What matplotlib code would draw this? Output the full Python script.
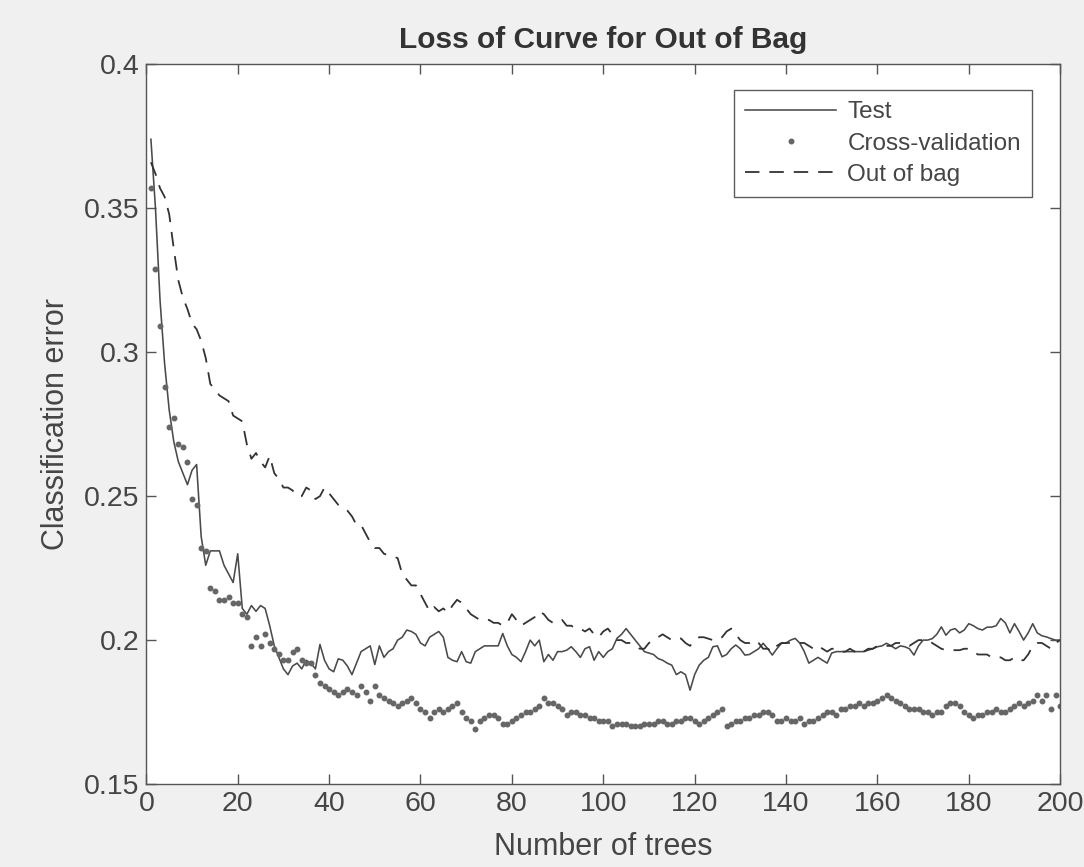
import matplotlib
matplotlib.use("Agg")
import matplotlib.pyplot as plt
import numpy as np

plt.rcParams['font.family'] = ['Liberation Sans', 'DejaVu Sans']

trees = list(range(1, 201))

test_err = [
    0.374, 0.350, 0.318, 0.296, 0.280, 0.269, 0.262, 0.258, 0.254, 0.259,
    0.261, 0.236, 0.226, 0.231, 0.231, 0.231, 0.226, 0.223, 0.220, 0.230,
    0.211, 0.209, 0.212, 0.210, 0.212, 0.211, 0.205, 0.198, 0.194, 0.190,
    0.188, 0.191, 0.192, 0.190, 0.193, 0.192, 0.190, 0.1985, 0.193, 0.190,
    0.189, 0.1935, 0.193, 0.191, 0.188, 0.192, 0.196, 0.197, 0.198, 0.1915,
    0.198, 0.194, 0.196, 0.197, 0.200, 0.201, 0.2035, 0.203, 0.202, 0.199,
    0.198, 0.201, 0.202, 0.203, 0.201, 0.194, 0.193, 0.1925, 0.196, 0.1925,
    0.192, 0.196, 0.197, 0.198, 0.198, 0.198, 0.198, 0.2023, 0.198, 0.195,
    0.194, 0.1925, 0.196, 0.200, 0.198, 0.200, 0.1925, 0.195, 0.193, 0.196,
    0.196, 0.1965, 0.1977, 0.196, 0.194, 0.197, 0.1977, 0.193, 0.196, 0.194,
    0.196, 0.197, 0.2006, 0.202, 0.204, 0.202, 0.200, 0.198, 0.196, 0.1955,
    0.195, 0.1936, 0.193, 0.192, 0.1913, 0.188, 0.189, 0.188, 0.1826, 0.188,
    0.1913, 0.193, 0.194, 0.1977, 0.198, 0.1942, 0.195, 0.197, 0.1983, 0.197,
    0.1948, 0.195, 0.196, 0.197, 0.1989, 0.197, 0.1948, 0.197, 0.1989, 0.199,
    0.200, 0.2006, 0.199, 0.196, 0.192, 0.193, 0.194, 0.193, 0.192, 0.1955,
    0.196, 0.196, 0.196, 0.196, 0.196, 0.196, 0.196, 0.1965, 0.197, 0.1977,
    0.198, 0.1989, 0.198, 0.197, 0.198, 0.1977, 0.197, 0.1948, 0.198, 0.200,
    0.200, 0.2005, 0.202, 0.2046, 0.2017, 0.2035, 0.204, 0.2025, 0.2035, 0.2057,
    0.205, 0.204, 0.2035, 0.2045, 0.2045, 0.205, 0.2075, 0.206, 0.2025, 0.2057,
    0.203, 0.200, 0.2025, 0.2057, 0.2025, 0.2015, 0.2011, 0.2005, 0.200, 0.200,
]

cv_err = [
    0.357, 0.329, 0.309, 0.288, 0.274, 0.277, 0.268, 0.267, 0.262, 0.249,
    0.247, 0.232, 0.231, 0.218, 0.217, 0.214, 0.214, 0.215, 0.213, 0.213,
    0.209, 0.208, 0.198, 0.201, 0.198, 0.202, 0.199, 0.197, 0.195, 0.193,
    0.193, 0.196, 0.197, 0.193, 0.192, 0.192, 0.188, 0.185, 0.184, 0.183,
    0.182, 0.181, 0.182, 0.183, 0.182, 0.181, 0.184, 0.182, 0.179, 0.184,
    0.181, 0.180, 0.179, 0.178, 0.177, 0.178, 0.179, 0.180, 0.178, 0.176,
    0.175, 0.173, 0.175, 0.176, 0.175, 0.176, 0.177, 0.178, 0.175, 0.173,
    0.172, 0.169, 0.172, 0.173, 0.174, 0.174, 0.173, 0.171, 0.171, 0.172,
    0.173, 0.174, 0.175, 0.175, 0.176, 0.177, 0.180, 0.178, 0.178, 0.177,
    0.176, 0.174, 0.175, 0.175, 0.174, 0.174, 0.173, 0.173, 0.172, 0.172,
    0.172, 0.170, 0.171, 0.171, 0.171, 0.170, 0.170, 0.170, 0.171, 0.171,
    0.171, 0.172, 0.172, 0.171, 0.171, 0.172, 0.172, 0.173, 0.173, 0.172,
    0.171, 0.172, 0.173, 0.174, 0.175, 0.176, 0.170, 0.171, 0.172, 0.172,
    0.173, 0.173, 0.174, 0.174, 0.175, 0.175, 0.174, 0.172, 0.172, 0.173,
    0.172, 0.172, 0.173, 0.171, 0.172, 0.172, 0.173, 0.174, 0.175, 0.175,
    0.174, 0.176, 0.176, 0.177, 0.177, 0.178, 0.177, 0.178, 0.178, 0.179,
    0.180, 0.181, 0.180, 0.179, 0.178, 0.177, 0.176, 0.176, 0.176, 0.175,
    0.175, 0.174, 0.175, 0.175, 0.177, 0.178, 0.178, 0.177, 0.175, 0.174,
    0.173, 0.174, 0.174, 0.175, 0.175, 0.176, 0.175, 0.175, 0.176, 0.177,
    0.178, 0.177, 0.178, 0.179, 0.181, 0.179, 0.181, 0.176, 0.181, 0.177,
]

oob_err = [
    0.366, 0.362, 0.357, 0.354, 0.348, 0.336, 0.325, 0.319, 0.315, 0.310,
    0.308, 0.304, 0.298, 0.289, 0.287, 0.285, 0.284, 0.283, 0.278, 0.277,
    0.276, 0.268, 0.263, 0.265, 0.262, 0.260, 0.264, 0.258, 0.256, 0.253,
    0.253, 0.252, 0.250, 0.250, 0.253, 0.252, 0.249, 0.250, 0.253, 0.251,
    0.249, 0.247, 0.246, 0.245, 0.243, 0.240, 0.240, 0.237, 0.234, 0.232,
    0.232, 0.230, 0.2295, 0.229, 0.2285, 0.223, 0.221, 0.219, 0.219, 0.216,
    0.213, 0.210, 0.2115, 0.210, 0.211, 0.2095, 0.212, 0.214, 0.213, 0.211,
    0.209, 0.208, 0.207, 0.207, 0.207, 0.206, 0.206, 0.205, 0.206, 0.209,
    0.207, 0.205, 0.206, 0.207, 0.208, 0.210, 0.209, 0.207, 0.206, 0.206,
    0.207, 0.205, 0.205, 0.204, 0.204, 0.203, 0.204, 0.202, 0.201, 0.203,
    0.204, 0.202, 0.200, 0.200, 0.199, 0.199, 0.198, 0.197, 0.197, 0.199,
    0.200, 0.201, 0.202, 0.201, 0.200, 0.200, 0.2006, 0.199, 0.198, 0.200,
    0.201, 0.201, 0.2005, 0.200, 0.200, 0.201, 0.203, 0.204, 0.202, 0.200,
    0.199, 0.199, 0.200, 0.199, 0.197, 0.197, 0.196, 0.198, 0.199, 0.199,
    0.199, 0.199, 0.199, 0.199, 0.198, 0.197, 0.198, 0.197, 0.196, 0.197,
    0.197, 0.196, 0.196, 0.197, 0.196, 0.197, 0.196, 0.197, 0.197, 0.198,
    0.198, 0.198, 0.198, 0.199, 0.199, 0.199, 0.198, 0.199, 0.200, 0.200,
    0.200, 0.199, 0.198, 0.197, 0.1965, 0.1965, 0.1965, 0.1965, 0.197, 0.197,
    0.196, 0.195, 0.195, 0.195, 0.194, 0.194, 0.194, 0.193, 0.193, 0.194,
    0.193, 0.193, 0.195, 0.198, 0.199, 0.199, 0.198, 0.197, 0.199, 0.200,
]

x_ticks = [0, 20, 40, 60, 80, 100, 120, 140, 160, 180, 200]
y_ticks = [0.15, 0.2, 0.25, 0.3, 0.35, 0.4]

line_col = '#4a4a4a'
text_col = '#454545'

fig = plt.figure(figsize=(10.84, 8.67), dpi=100, facecolor='#f0f0f0')
ax = fig.add_axes([0.135, 0.0957, 0.843, 0.830])
ax.set_facecolor('white')

ax.plot(trees, test_err, '-', color=line_col, lw=1.15, label='Test')
ax.plot(trees, cv_err, '.', color='#666666', markersize=6.5, label='Cross-validation')
ax.plot(trees, oob_err, '--', color='#333333', lw=1.3, dashes=(8, 5.5), label='Out of bag')

ax.set_xlim(0, 200)
ax.set_ylim(0.15, 0.4)
ax.set_xticks(x_ticks)
ax.set_xticklabels([str(t) for t in x_ticks])
ax.set_yticks(y_ticks)
ax.set_yticklabels([('%g' % t) for t in y_ticks])

ax.tick_params(direction='in', top=True, right=True, length=7, width=1,
               colors='#555555', labelcolor=text_col, labelsize=20.5, pad=5)
for s in ax.spines.values():
    s.set_color('#555555')
    s.set_linewidth(1.0)

ax.set_xlabel('Number of trees', fontsize=22, color=text_col, labelpad=11)
ax.set_ylabel('Classification error', fontsize=22, color=text_col, labelpad=9)
ax.set_title('Loss of Curve for Out of Bag', fontsize=21.5, fontweight='bold',
             color='#333333', pad=12)

leg = ax.legend(loc='upper right', bbox_to_anchor=(0.969, 0.964), fontsize=17.5,
                frameon=True, fancybox=False, edgecolor='#333333',
                borderpad=0.45, labelspacing=0.38, handlelength=3.75,
                handletextpad=0.45, borderaxespad=0.0)
leg.get_frame().set_linewidth(1.0)
for t in leg.get_texts():
    t.set_color(text_col)

fig.savefig('out.png', dpi=100, facecolor=fig.get_facecolor())
